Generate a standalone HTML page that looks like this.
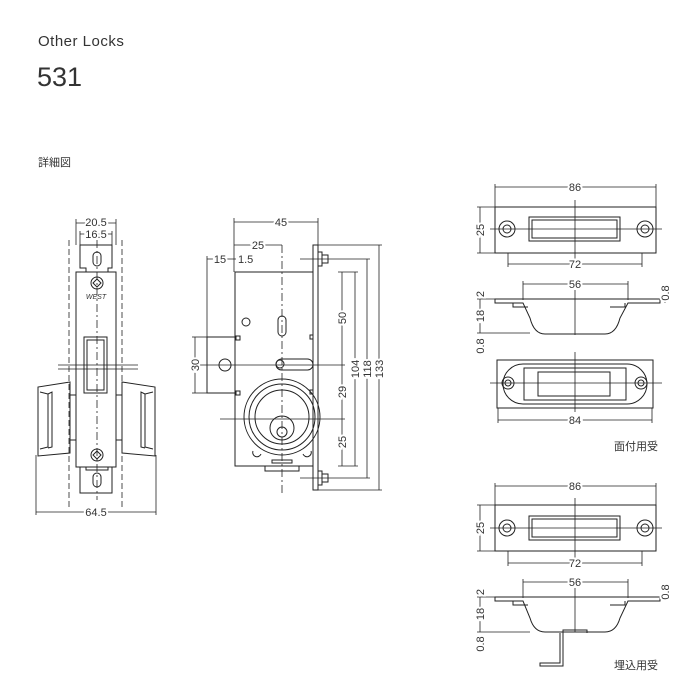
<!DOCTYPE html>
<html><head><meta charset="utf-8"><style>
body{margin:0;background:#fff;width:700px;height:700px;overflow:hidden}
svg{display:block}
text{font-family:"Liberation Sans","Noto Sans CJK JP",sans-serif;fill:#333}
</style></head><body>
<svg width="700" height="700" viewBox="0 0 700 700" xmlns="http://www.w3.org/2000/svg">
<text x="38" y="46" font-size="15" letter-spacing="0.5">Other Locks</text>
<text x="37" y="86" font-size="27">531</text>
<text x="38" y="166" font-size="11">詳細図</text>

<g stroke="#222" fill="none" stroke-width="1">
<!-- LEFT VIEW -->
<g stroke-width="0.8">
<line x1="76" y1="223" x2="116" y2="223"/><line x1="76" y1="219" x2="76" y2="245"/><line x1="116" y1="219" x2="116" y2="245"/>
<line x1="80" y1="234" x2="112" y2="234"/><line x1="80" y1="231" x2="80" y2="245"/><line x1="112" y1="231" x2="112" y2="245"/>
<line x1="69" y1="240" x2="69" y2="510" stroke-dasharray="6 3"/><line x1="122" y1="240" x2="122" y2="510" stroke-dasharray="6 3"/>
<line x1="97" y1="240" x2="97" y2="500" stroke-dasharray="8 3 2 3"/>
<line x1="36" y1="512" x2="156" y2="512"/><line x1="36" y1="455" x2="36" y2="515"/><line x1="156" y1="455" x2="156" y2="515"/>
<line x1="58" y1="365" x2="138" y2="365"/><line x1="58" y1="369" x2="138" y2="369"/>
</g>
<path d="M80 245H112V268H108V272H86V268H80Z"/>
<rect x="93" y="252" width="8" height="14" rx="4"/>
<rect x="76" y="272" width="40" height="195"/>
<circle cx="97" cy="283" r="6"/><path d="M97 279l4 4-4 4-4-4z"/>
<circle cx="97" cy="455" r="6"/><path d="M97 451l4 4-4 4-4-4z"/>
<rect x="84" y="337" width="23" height="56"/><rect x="87" y="340" width="17" height="50"/>
<path d="M80 467V493H112V467M86 467V470H108V467"/>
<rect x="93" y="473" width="8" height="14" rx="4"/>
<path d="M70 382L38 387V456L70 453Z"/><path d="M40 392L48 394V447L40 449M48 394L52 392V447L48 448"/>
<path d="M70 395H76M70 440H76"/>
<path d="M122 382L155 387V456L122 453Z"/><path d="M153 392L145 394V447L153 449M145 394L141 392V447L145 448"/>
<path d="M116 395H122M116 440H122"/>

<!-- MIDDLE VIEW -->
<g stroke-width="0.8">
<line x1="234" y1="222" x2="318" y2="222"/><line x1="234" y1="218" x2="234" y2="272"/><line x1="318" y1="218" x2="318" y2="245"/>
<line x1="234" y1="245" x2="282" y2="245"/>
<line x1="207" y1="259" x2="236" y2="259"/><line x1="207" y1="256" x2="207" y2="337"/>
<line x1="195" y1="337" x2="195" y2="393"/><line x1="192" y1="337" x2="207" y2="337"/><line x1="192" y1="393" x2="207" y2="393"/>
<line x1="195" y1="365" x2="345" y2="365"/>
<line x1="282" y1="245" x2="282" y2="495" stroke-dasharray="8 3 2 3"/>
<line x1="220" y1="419" x2="345" y2="419"/>
<line x1="342" y1="272" x2="342" y2="466"/><line x1="338" y1="272" x2="358" y2="272"/><line x1="338" y1="466" x2="358" y2="466"/>
<line x1="355" y1="272" x2="355" y2="466"/>
<line x1="300" y1="259" x2="370" y2="259"/><line x1="300" y1="478" x2="370" y2="478"/><line x1="367" y1="259" x2="367" y2="478"/>
<line x1="318" y1="245" x2="382" y2="245"/><line x1="318" y1="490" x2="382" y2="490"/><line x1="379" y1="245" x2="379" y2="490"/>
</g>
<path d="M235 272H313V466H235Z"/>
<rect x="313" y="245" width="5" height="245"/>
<path d="M318 252h4v14h-4M322 255h6v8h-6"/>
<path d="M318 471h4v14h-4M322 474h6v8h-6"/>
<rect x="207" y="337" width="28" height="56"/>
<circle cx="225" cy="365" r="6"/>
<rect x="236" y="336" width="4" height="4"/><rect x="236" y="391" width="4" height="4"/>
<circle cx="246" cy="322" r="4"/>
<rect x="278" y="316" width="8" height="20" rx="4"/>
<rect x="276" y="359" width="37" height="11" rx="5.5"/><circle cx="280" cy="364" r="4"/>
<path d="M313 335h-3v4h3M313 390h-3v4h3"/>
<circle cx="282" cy="417" r="38"/><circle cx="282" cy="417" r="33"/><circle cx="282" cy="417" r="27"/>
<circle cx="282" cy="428" r="12"/><circle cx="282" cy="432" r="5"/>
<path d="M253 451a4 4 0 0 0 8 3M303 454a4 4 0 0 0 8-3"/>
<path d="M265 466v5h34v-5"/>
<rect x="272" y="460" width="20" height="3"/>

<!-- RIGHT TOP: surface strike -->
<g stroke-width="0.8">
<line x1="495" y1="187" x2="656" y2="187"/><line x1="495" y1="184" x2="495" y2="207"/><line x1="656" y1="184" x2="656" y2="207"/>
<line x1="480" y1="207" x2="480" y2="253"/><line x1="477" y1="207" x2="495" y2="207"/><line x1="477" y1="253" x2="495" y2="253"/>
<line x1="508" y1="264" x2="642" y2="264"/><line x1="508" y1="253" x2="508" y2="267"/><line x1="642" y1="253" x2="642" y2="267"/>
<line x1="575" y1="200" x2="575" y2="260"/><line x1="490" y1="229" x2="662" y2="229"/>
<line x1="523" y1="284" x2="628" y2="284"/><line x1="523" y1="281" x2="523" y2="300"/><line x1="628" y1="281" x2="628" y2="300"/>
<line x1="575" y1="290" x2="575" y2="335"/>
<line x1="480" y1="299" x2="480" y2="333"/><line x1="477" y1="299" x2="495" y2="299"/><line x1="477" y1="333" x2="530" y2="333"/>
<line x1="665" y1="299" x2="665" y2="303"/>
<line x1="498" y1="420" x2="652" y2="420"/><line x1="498" y1="408" x2="498" y2="423"/><line x1="652" y1="408" x2="652" y2="423"/>
<line x1="575" y1="352" x2="575" y2="412"/><line x1="490" y1="383" x2="662" y2="383"/>
</g>
<rect x="495" y="207" width="161" height="46"/>
<circle cx="507" cy="229" r="8"/><circle cx="507" cy="229" r="4"/>
<circle cx="645" cy="229" r="8"/><circle cx="645" cy="229" r="4"/>
<rect x="529" y="217" width="91" height="24"/><rect x="532" y="220" width="85" height="18"/>
<path d="M495 299H660V303H628L620 318Q616 334 605 334H545Q534 334 530 318L523 303H495Z"/>
<path d="M498 303h15v4h15M610 307h15v-4"/>
<rect x="497" y="360" width="156" height="48"/>
<rect x="503" y="364" width="144" height="40" rx="20"/>
<rect x="524" y="368" width="102" height="32"/><rect x="538" y="372" width="72" height="24"/>
<circle cx="508" cy="383" r="6"/><circle cx="508" cy="383" r="3"/>
<circle cx="641" cy="383" r="6"/><circle cx="641" cy="383" r="3"/>

<!-- RIGHT BOTTOM: mortise strike -->
<g stroke-width="0.8">
<line x1="495" y1="486" x2="656" y2="486"/><line x1="495" y1="483" x2="495" y2="505"/><line x1="656" y1="483" x2="656" y2="505"/>
<line x1="480" y1="505" x2="480" y2="551"/><line x1="477" y1="505" x2="495" y2="505"/><line x1="477" y1="551" x2="495" y2="551"/>
<line x1="508" y1="563" x2="642" y2="563"/><line x1="508" y1="551" x2="508" y2="566"/><line x1="642" y1="551" x2="642" y2="566"/>
<line x1="575" y1="498" x2="575" y2="558"/><line x1="490" y1="528" x2="662" y2="528"/>
<line x1="523" y1="582" x2="628" y2="582"/><line x1="523" y1="579" x2="523" y2="598"/><line x1="628" y1="579" x2="628" y2="598"/>
<line x1="575" y1="588" x2="575" y2="632"/>
<line x1="480" y1="597" x2="480" y2="632"/><line x1="477" y1="597" x2="495" y2="597"/><line x1="477" y1="632" x2="530" y2="632"/>
<line x1="665" y1="597" x2="665" y2="601"/>
</g>
<rect x="495" y="505" width="161" height="46"/>
<circle cx="507" cy="528" r="8"/><circle cx="507" cy="528" r="4"/>
<circle cx="645" cy="528" r="8"/><circle cx="645" cy="528" r="4"/>
<rect x="529" y="516" width="91" height="24"/><rect x="532" y="519" width="85" height="18"/>
<path d="M495 597H660V601H628L620 618Q616 632 605 632H545Q534 632 530 618L523 601H495Z"/>
<path d="M498 601h15v4h15M610 605h15v-4"/>
<path d="M563 633v-3h24v3M563 633v33h-23v-3h20v-30"/>
</g>

<g font-size="11">
<text x="96" y="226" text-anchor="middle" style="paint-order:stroke" stroke="#fff" stroke-width="4">20.5</text>
<text x="96" y="238" text-anchor="middle" style="paint-order:stroke" stroke="#fff" stroke-width="4">16.5</text>
<text x="96" y="299" text-anchor="middle" font-size="7" font-style="italic">WEST</text>
<text x="96" y="516" text-anchor="middle" style="paint-order:stroke" stroke="#fff" stroke-width="4">64.5</text>
<text x="281" y="226" text-anchor="middle" style="paint-order:stroke" stroke="#fff" stroke-width="4">45</text>
<text x="258" y="249" text-anchor="middle" style="paint-order:stroke" stroke="#fff" stroke-width="4">25</text>
<text x="220" y="263" text-anchor="middle" style="paint-order:stroke" stroke="#fff" stroke-width="4">15</text>
<text x="238" y="263">1.5</text>
<g style="paint-order:stroke" stroke="#fff" stroke-width="4">
<text transform="translate(199,365) rotate(-90)" text-anchor="middle">30</text>
<text transform="translate(346,318) rotate(-90)" text-anchor="middle">50</text>
<text transform="translate(346,392) rotate(-90)" text-anchor="middle">29</text>
<text transform="translate(346,442) rotate(-90)" text-anchor="middle">25</text>
<text transform="translate(359,369) rotate(-90)" text-anchor="middle">104</text>
<text transform="translate(371,369) rotate(-90)" text-anchor="middle">118</text>
<text transform="translate(383,369) rotate(-90)" text-anchor="middle">133</text>
<text x="575" y="191" text-anchor="middle">86</text>
<text transform="translate(484,230) rotate(-90)" text-anchor="middle">25</text>
<text x="575" y="268" text-anchor="middle">72</text>
<text x="575" y="288" text-anchor="middle">56</text>
<text transform="translate(484,294) rotate(-90)" text-anchor="middle">2</text>
<text transform="translate(484,316) rotate(-90)" text-anchor="middle">18</text>
<text transform="translate(484,346) rotate(-90)" text-anchor="middle">0.8</text>
<text transform="translate(669,293) rotate(-90)" text-anchor="middle">0.8</text>
<text x="575" y="424" text-anchor="middle">84</text>
<text x="575" y="490" text-anchor="middle">86</text>
<text transform="translate(484,528) rotate(-90)" text-anchor="middle">25</text>
<text x="575" y="567" text-anchor="middle">72</text>
<text x="575" y="586" text-anchor="middle">56</text>
<text transform="translate(484,592) rotate(-90)" text-anchor="middle">2</text>
<text transform="translate(484,614) rotate(-90)" text-anchor="middle">18</text>
<text transform="translate(484,644) rotate(-90)" text-anchor="middle">0.8</text>
<text transform="translate(669,592) rotate(-90)" text-anchor="middle">0.8</text>
</g>
<text x="614" y="450">面付用受</text>
<text x="614" y="669">埋込用受</text>
</g>
</svg>
</body></html>
